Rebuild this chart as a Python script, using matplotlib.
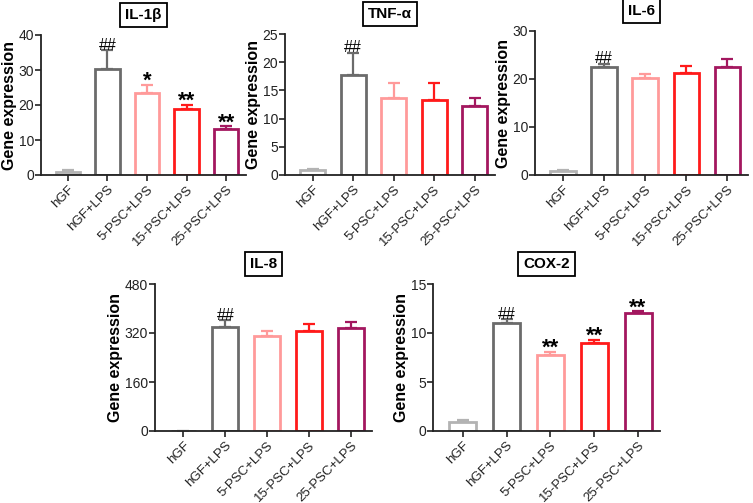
import matplotlib
matplotlib.use('Agg')
import matplotlib.pyplot as plt

plt.rcParams['font.family'] = ['Liberation Sans', 'DejaVu Sans']

groups = ['hGF', 'hGF+LPS', '5-PSC+LPS', '15-PSC+LPS', '25-PSC+LPS']
colors = ['#b3b3b3', '#6b6b6b', '#ff9a9a', '#ff1a1a', '#a3175f']

il1b_mean = [1.0, 30.2, 23.4, 18.8, 13.1]
il1b_err = [0.5, 5.5, 2.3, 1.2, 0.8]
il1b_sig = ['', '##', '*', '**', '**']

tnfa_mean = [0.9, 17.8, 13.7, 13.3, 12.2]
tnfa_err = [0.1, 3.9, 2.7, 3.0, 1.5]
tnfa_sig = ['', '##', '', '', '']

il6_mean = [0.9, 22.5, 20.2, 21.2, 22.4]
il6_err = [0.2, 0.7, 0.8, 1.6, 1.8]
il6_sig = ['', '##', '', '', '']

il8_mean = [1.0, 340, 311, 325, 337]
il8_err = [0.5, 21, 17, 26, 19]
il8_sig = ['', '##', '', '', '']

cox2_mean = [0.9, 11.0, 7.8, 9.0, 12.0]
cox2_err = [0.2, 0.4, 0.3, 0.3, 0.2]
cox2_sig = ['', '##', '**', '**', '**']

# name, means, errors, marks, y max, y ticks, axes box in pixels (left, right, bottom, top)
panels = [
    ('IL-1β', il1b_mean, il1b_err, il1b_sig, 40, [0, 10, 20, 30, 40], (41, 246, 175, 35)),
    ('TNF-α', tnfa_mean, tnfa_err, tnfa_sig, 25, [0, 5, 10, 15, 20, 25], (285, 495, 175, 34)),
    ('IL-6', il6_mean, il6_err, il6_sig, 30, [0, 10, 20, 30], (535, 748, 175, 31)),
    ('IL-8', il8_mean, il8_err, il8_sig, 480, [0, 160, 320, 480], (155, 372, 431, 284)),
    ('COX-2', cox2_mean, cox2_err, cox2_sig, 15, [0, 5, 10, 15], (433, 660, 431, 284)),
]

W, H = 753, 503
fig = plt.figure(figsize=(W / 100, H / 100), dpi=100)

for name, mean, err, sig, ymax, yticks, box in panels:
    l, r, b, t = box
    ax = fig.add_axes([l / W, 1 - b / H, (r - l) / W, (b - t) / H])
    x = list(range(len(groups)))
    ax.bar(x, mean, width=0.62, color='white', edgecolor=colors, linewidth=2, zorder=2)
    for i in x:
        ax.errorbar(i, mean[i], yerr=[[0], [err[i]]], color=colors[i], capsize=4,
                    elinewidth=1.6, capthick=1.6, zorder=1)
        if sig[i]:
            if sig[i] == '##':
                ax.annotate(sig[i], (i, mean[i] + err[i]), xytext=(0, -2), textcoords='offset points',
                            ha='center', va='bottom', fontsize=11.5)
            else:
                ax.annotate(sig[i], (i, mean[i] + err[i]), xytext=(0, -5), textcoords='offset points',
                            ha='center', va='bottom', fontsize=16, fontweight='bold')
    ax.set_xlim(-0.68, 4.5)
    ax.set_ylim(0, ymax)
    ax.set_yticks(yticks)
    ax.set_xticks(x)
    ax.set_xticklabels(groups, rotation=45, ha='right', rotation_mode='anchor', fontsize=9.5)
    ax.tick_params(axis='y', labelsize=10, width=1.2, length=4, pad=1, colors='#222222')
    ax.tick_params(axis='x', width=1.2, length=4, pad=2, colors='#222222')
    for s in ['top', 'right']:
        ax.spines[s].set_visible(False)
    for s in ['left', 'bottom']:
        ax.spines[s].set_linewidth(1.3)
        ax.spines[s].set_color('#222222')
    ax.set_ylabel('Gene expression', fontsize=11.5, fontweight='bold', labelpad=1)
    ax.text(0.5, 1.0 + 20 / (b - t), name, transform=ax.transAxes, ha='center', va='center',
            fontsize=11, fontweight='bold',
            bbox=dict(boxstyle='square,pad=0.35', facecolor='white', edgecolor='black', linewidth=1.3))

fig.savefig('out.png', dpi=100)
